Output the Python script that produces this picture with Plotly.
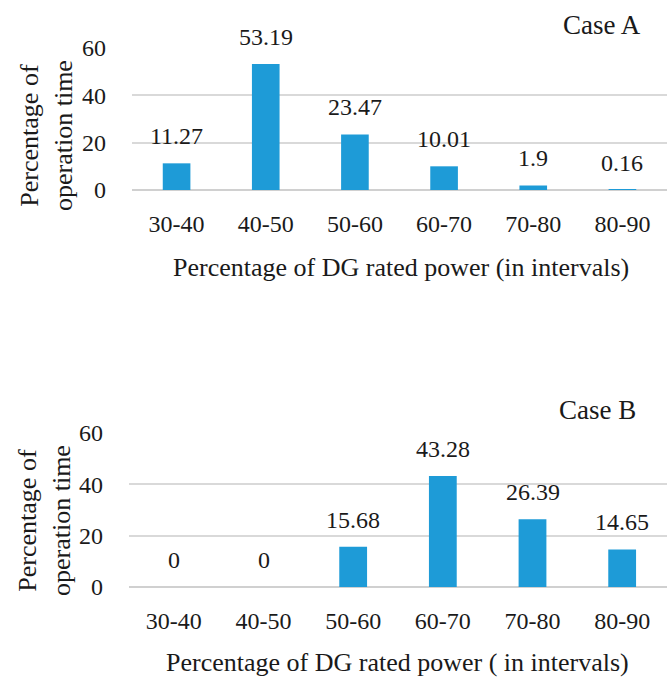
import plotly.graph_objects as go

categories = ["30-40", "40-50", "50-60", "60-70", "70-80", "80-90"]
case_a = [11.27, 53.19, 23.47, 10.01, 1.9, 0.16]
case_b = [0, 0, 15.68, 43.28, 26.39, 14.65]
y_ticks = [0, 20, 40, 60]
x_title_a = "Percentage of DG rated power (in intervals)"
x_title_b = "Percentage of DG rated power ( in intervals)"
y_title = "Percentage of<br>operation time"

FONT = "Liberation Serif, Times New Roman, serif"
BAR = "#1E9BD7"
GRID = "#D9D9D9"
TXT = "#1a1a1a"
W, H = 667, 677

def fy(px):
    return 1 - px / H

fig = go.Figure()
fig.add_trace(go.Bar(x=categories, y=case_a, marker=dict(color=BAR, line=dict(width=0)),
                     width=0.31, xaxis="x", yaxis="y", showlegend=False, hoverinfo="x+y"))
fig.add_trace(go.Bar(x=categories, y=case_b, marker=dict(color=BAR, line=dict(width=0)),
                     width=0.31, xaxis="x2", yaxis="y2", showlegend=False, hoverinfo="x+y"))

ann = []
for c, v in zip(categories, case_a):
    ann.append(dict(x=c, y=v, xref="x", yref="y", text=str(v), showarrow=False,
                    yanchor="middle", yshift=27, font=dict(family=FONT, size=24, color=TXT)))
for c, v in zip(categories, case_b):
    ann.append(dict(x=c, y=v, xref="x2", yref="y2", text=str(v), showarrow=False,
                    yanchor="middle", yshift=27, font=dict(family=FONT, size=24, color=TXT)))

ann.append(dict(x=643 / W, y=fy(25), xref="paper", yref="paper", text="Case A", showarrow=False,
                xanchor="right", yanchor="middle", font=dict(family=FONT, size=27, color=TXT)))
ann.append(dict(x=638 / W, y=fy(410), xref="paper", yref="paper", text="Case B", showarrow=False,
                xanchor="right", yanchor="middle", font=dict(family=FONT, size=27, color=TXT)))
# y titles
ann.append(dict(x=46 / W, y=fy(136), xref="paper", yref="paper", text=y_title, showarrow=False,
                textangle=-90, xanchor="center", yanchor="middle",
                font=dict(family=FONT, size=26, color=TXT)))
ann.append(dict(x=44 / W, y=fy(521), xref="paper", yref="paper", text=y_title, showarrow=False,
                textangle=-90, xanchor="center", yanchor="middle",
                font=dict(family=FONT, size=26, color=TXT)))
# x titles
ann.append(dict(x=401 / W, y=fy(267), xref="paper", yref="paper", text=x_title_a, showarrow=False,
                xanchor="center", yanchor="middle", font=dict(family=FONT, size=26, color=TXT)))
ann.append(dict(x=398 / W, y=fy(662), xref="paper", yref="paper", text=x_title_b, showarrow=False,
                xanchor="center", yanchor="middle", font=dict(family=FONT, size=26, color=TXT)))

axis_y = dict(range=[0, 60], tickvals=y_ticks, showgrid=True, gridcolor=GRID, gridwidth=1.5,
              zeroline=True, zerolinecolor="#D0D0D0", zerolinewidth=2, showline=False,
              ticks="", tickfont=dict(family=FONT, size=24, color=TXT), ticklabelstandoff=25,
              fixedrange=True, automargin=False)
axis_x = dict(showgrid=False, zeroline=False, showline=False, ticks="",
              tickfont=dict(family=FONT, size=24, color=TXT), ticklabelstandoff=17,
              categoryorder="array", categoryarray=categories, fixedrange=True, automargin=False)

fig.update_layout(
    width=W, height=H, margin=dict(l=0, r=0, t=0, b=0, autoexpand=False),
    paper_bgcolor="white", plot_bgcolor="white",
    font=dict(family=FONT, color=TXT),
    xaxis=dict(axis_x, domain=[132 / W, 1.0], anchor="y"),
    yaxis=dict(axis_y, domain=[fy(190), fy(48)], anchor="x"),
    xaxis2=dict(axis_x, domain=[129 / W, 1.0], anchor="y2"),
    yaxis2=dict(axis_y, domain=[fy(587), fy(433)], anchor="x2"),
    annotations=ann,
    bargap=0.69,
)

fig.write_html("out.html")
